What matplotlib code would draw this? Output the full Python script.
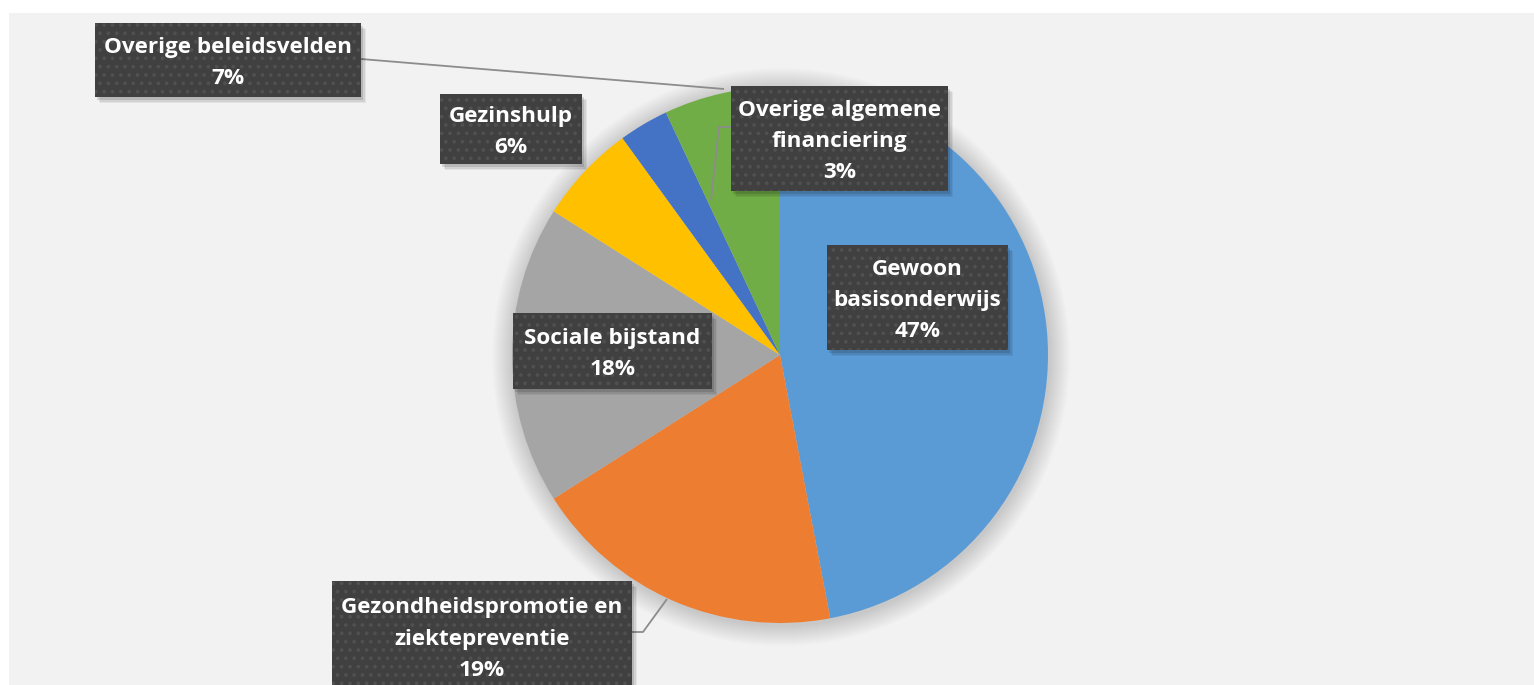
import matplotlib.pyplot as plt
from matplotlib.patches import Rectangle, Circle

# Share of spending per policy field (percent), clockwise from 12 o'clock
categories = [
    "Gewoon basisonderwijs",
    "Gezondheidspromotie en ziektepreventie",
    "Sociale bijstand",
    "Gezinshulp",
    "Overige algemene financiering",
    "Overige beleidsvelden",
]
shares = [47, 19, 18, 6, 3, 7]
label_names = [
    "Gewoon\nbasisonderwijs",
    "Gezondheidspromotie en\nziektepreventie",
    "Sociale bijstand",
    "Gezinshulp",
    "Overige algemene\nfinanciering",
    "Overige beleidsvelden",
]
colors = ["#5B9BD5", "#ED7D31", "#A5A5A5", "#FFC000", "#4472C4", "#70AD47"]

# Layout in pixel units (y measured upward)
W, H = 1534, 685
center = (780, 330)
radius = 268
# label box: (x_left, y_bottom, width, height)
boxes = [
    (827, 335, 181, 105),
    (332, -6, 300, 110),
    (513, 296, 199, 76),
    (440, 521, 142, 70),
    (731, 494, 217, 105),
    (95, 588, 266, 74),
]
leaders = {
    1: [(632, 53), (643, 53), (667, 86)],
    4: [(731, 558), (719, 558), (711, 485)],
    5: [(361, 626), (724, 596)],
}

fig = plt.figure(figsize=(W / 100, H / 100), dpi=100)
ax = fig.add_axes([0, 0, 1, 1])

# chart area background
ax.add_patch(Rectangle((9, 0), W - 9, H - 13, facecolor="#F2F2F2",
                       edgecolor="none", zorder=0))

# soft shadow around the pie
for k in range(1, 22):
    ax.add_patch(Circle((center[0] + 1, center[1] - 2), radius + k,
                        facecolor="#707070", edgecolor="none",
                        alpha=0.012, zorder=1))

ax.pie(shares, colors=colors, startangle=90, counterclock=False,
       center=center, radius=radius, frame=True,
       wedgeprops=dict(linewidth=0, zorder=2))
ax.set_xlim(0, W)
ax.set_ylim(0, H)
ax.set_aspect("equal")
ax.axis("off")

# leader lines
for idx, pts in leaders.items():
    xs, ys = zip(*pts)
    ax.plot(xs, ys, color="#8C8C8C", linewidth=1.3, zorder=3,
            solid_capstyle="butt")

plt.rcParams["hatch.linewidth"] = 1.5
plt.rcParams["hatch.color"] = "#505050"

for i, (x0, y0, bw, bh) in enumerate(boxes):
    # drop shadow
    for s, a in [(6, 0.06), (4.5, 0.08), (3, 0.12)]:
        ax.add_patch(Rectangle((x0 + s - 1, y0 - s), bw, bh,
                               facecolor="#000000", edgecolor="none",
                               alpha=a, zorder=4))
    ax.add_patch(Rectangle((x0, y0), bw, bh, facecolor="#404040",
                           edgecolor="none", zorder=5))
    ax.add_patch(Rectangle((x0, y0), bw, bh, facecolor="none",
                           edgecolor="#505050", linewidth=0, hatch="..",
                           zorder=5))
    ax.text(x0 + bw / 2, y0 + bh / 2 - 3,
            f"{label_names[i]}\n{shares[i]}%",
            ha="center", va="center", color="white", fontsize=16.2,
            fontweight="bold", family=["Open Sans", "DejaVu Sans"],
            linespacing=1.65, zorder=6)

fig.savefig("out.png", dpi=100, facecolor="white")
